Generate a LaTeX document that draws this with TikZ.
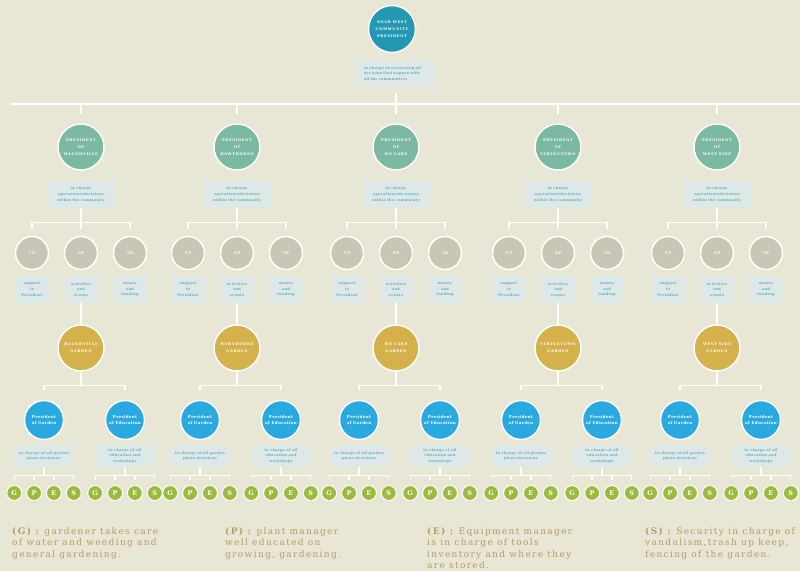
\documentclass[tikz,border=0pt]{standalone}
\usepackage{fontspec}
\setmainfont{DejaVu Serif}
\newfontfamily\capsfam[LetterSpace=18]{DejaVu Serif}
\newfontfamily\notefam[LetterSpace=8]{DejaVu Serif}
\newfontfamily\legendfam[LetterSpace=15]{DejaVu Serif}
\usetikzlibrary{positioning}

\definecolor{paper}{RGB}{232,230,212}
\definecolor{boxfill}{RGB}{222,232,231}
\definecolor{boxtext}{RGB}{92,172,196}
\definecolor{topblue}{RGB}{35,152,178}
\definecolor{presgreen}{RGB}{124,185,162}
\definecolor{officergray}{RGB}{200,198,180}
\definecolor{gardengold}{RGB}{212,177,74}
\definecolor{headblue}{RGB}{41,169,224}
\definecolor{staffgreen}{RGB}{155,187,62}
\definecolor{legendtan}{RGB}{182,156,98}

\newcommand\capsfont{\capsfam\bfseries\fontsize{3.6}{7}\selectfont}
\newcommand\notefont{\notefam\bfseries\fontsize{3.5}{5.8}\selectfont}
\newcommand\headfont{\notefam\bfseries\fontsize{4}{6.5}\selectfont}
\newcommand\keyfont{\bfseries\fontsize{6.5}{7}\selectfont}
\newcommand\legendfont{\legendfam\fontsize{9}{11.3}\selectfont}

\tikzset{
  ring/.style={circle, draw=white, line width=1.5pt, inner sep=0pt, text=white, align=center, font=\capsfont},
  community/.style={ring, fill=topblue, minimum size=47pt},
  president/.style={ring, fill=presgreen, minimum size=46pt},
  officer/.style={ring, fill=officergray, minimum size=33pt},
  garden/.style={ring, fill=gardengold, minimum size=46pt},
  head/.style={ring, fill=headblue, minimum size=39pt, font=\headfont},
  staff/.style={ring, fill=staffgreen, line width=1pt, minimum size=15pt, font=\keyfont},
  note/.style={rectangle, fill=boxfill, inner sep=0pt, text=boxtext, align=center, font=\notefont, minimum height=27pt},
  link/.style={draw=white, line width=1.3pt},
  legend/.style={anchor=north west, inner sep=0pt, align=left, text=legendtan, font=\legendfont}
}

\begin{document}
\begin{tikzpicture}[x=1pt,y=-1pt]
  \fill[paper] (0,0) rectangle (800,571);
  \useasboundingbox (0,0) rectangle (800,571);

  % whole community
  \node[community] (nw) at (392,29) {NEAR WEST\\COMMUNITY\\PRESIDENT};
  \node[note, minimum width=80pt, text width=64pt, align=left] (nwbox) at (396,73.5) {in charge of overseeing all\\decision that happen with\\all the communities};
  \coordinate (barL) at (11,104);
  \coordinate (barR) at (800,104);
  \draw[link] (barL) -- (barR);
  \draw[link] ([yshift=-6pt]nwbox.south) -- (nwbox.south |- barL);

  % one column per neighbourhood
  \foreach \n/\cx/\town in {1/81/HAUGHVILLE, 2/237/HAWTHORNE, 3/396/WE CARE, 4/558/STRINGTOWN, 5/717/WEST SIDE}{
    \node[president] (pres\n) at (\cx,147) {PRESIDENT\\OF\\\town};
    \draw[link] (pres\n.north |- barL) -- ([yshift=9pt]pres\n.north);
    \node[note, minimum width=67pt] (pbox\n) at (\cx,194.5) {in charge\\operations/decisions\\within the community};

    \node[officer] (vp\n) at (\cx-49,253) {VP};
    \node[officer] (op\n) at (\cx,253) {OP};
    \node[officer] (tr\n) at (\cx+49,253) {TR};
    \draw[link] (pbox\n.south) -- ([yshift=6.5pt]op\n.north);
    \draw[link] ([yshift=6.5pt]vp\n.north) -- ++(0,-7) -| ([yshift=6.5pt]tr\n.north);
    \node[note, minimum width=33pt] (vpbox\n) at (\cx-49,289.5) {support\\to\\President};
    \node[note, minimum width=33pt] (opbox\n) at (\cx,289.5) {activities\\and\\events};
    \node[note, minimum width=33pt] (trbox\n) at (\cx+49,289.5) {money\\and\\funding};

    \node[garden] (gar\n) at (\cx,348) {\town\\GARDEN};
    \draw[link] (opbox\n.south) -- (gar\n.north);

    \node[head] (pg\n) at (\cx-37,420) {President\\of Garden};
    \node[head] (pe\n) at (\cx+44,420) {President\\of Education};
    \draw[link] (gar\n.south) -- ++(0,14.5);
    \draw[link] ([yshift=9.5pt]pg\n.north) -- ++(0,-5) -| ([yshift=9.5pt]pe\n.north);
    \node[note, minimum width=60pt, minimum height=22pt] (pgbox\n) at (\cx-37,456) {in charge of all garden\\plans decisions};
    \node[note, minimum width=60pt, minimum height=22pt] (pebox\n) at (\cx+44,456) {in charge of all\\education and\\workshops};

    % G P E S under each president
    \foreach \pr in {pg,pe}{
      \foreach \letter/\dx in {G/-29.8,P/-9.9,E/9.9,S/29.8}{
        \node[staff] (\pr\n\letter) at ([xshift=\dx pt, yshift=-73pt]\pr\n) {\letter};
        \draw[link] ([yshift=5pt]\pr\n\letter.north) -- ++(0,-4.5);
      }
      \draw[link] ([yshift=9.5pt]\pr\n G.north) -- ([yshift=9.5pt]\pr\n S.north);
      \draw[link] (\pr box\n.south) -- ++(0,9);
    }
  }

  % legend
  \node[legend] (legG) at (12,527.5) {\textbf{(G) :} gardener takes care\\of water and weeding and\\general gardening.};
  \node[legend] (legP) at (225,527.5) {\textbf{(P) :} plant manager\\well educated on\\growing, gardening.};
  \node[legend] (legE) at (427,527.5) {\textbf{(E) :} Equipment manager\\is in charge of tools\\inventory and where they\\are stored.};
  \node[legend] (legS) at (645,527.5) {\textbf{(S) :} Security in charge of\\vandalism,trash up keep,\\fencing of the garden.};
\end{tikzpicture}
\end{document}
